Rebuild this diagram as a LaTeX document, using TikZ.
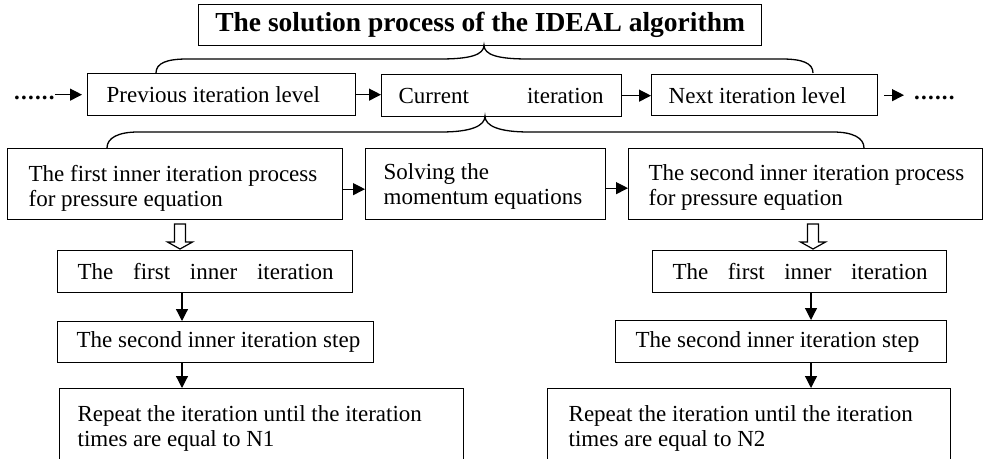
\documentclass[tikz,border=0pt]{standalone}
\usepackage{fontspec}
\setmainfont{Liberation Serif}
\usetikzlibrary{arrows.meta}
\newcommand{\bodyfs}{\fontsize{23pt}{25pt}\selectfont}
\newcommand{\titlefs}{\fontsize{27.5pt}{30pt}\selectfont\bfseries}
% left padding, text width, text
\newcommand{\padtext}[3]{\hspace*{#1}\parbox[c]{#2}{#3}}
% same, moved down by half of the extra height #4
\newcommand{\padlow}[4]{\hspace*{#1}\raisebox{0pt}[\dimexpr\height+#4\relax]{\parbox[c]{#2}{#3}}}
\begin{document}
\begin{tikzpicture}[x=1pt,y=-1pt,
  bx/.style={draw, line width=1.3pt, anchor=north west, inner sep=0pt, font=\bodyfs},
  arr/.style={line width=1.2pt, -{Triangle[length=12pt,width=12pt]}},
  brc/.style={line width=1.3pt},
  hol/.style={line width=1.2pt, fill=white},
  dots/.style={anchor=base west, inner sep=0pt, font=\bodyfs\bfseries}]
\useasboundingbox (0,0) rectangle (984,458);
\clip (0,0) rectangle (984,458);

% title and level boxes
\node[bx, minimum width=563pt, minimum height=41pt, font=\titlefs] (title) at (198,4) {The solution process of the IDEAL algorithm};
\node[bx, minimum width=268pt, minimum height=42pt] (prev) at (87,73) {\padtext{19pt}{249pt}{Previous iteration level}};
\node[bx, minimum width=240pt, minimum height=42pt] (cur) at (381,74) {\padtext{17pt}{205pt}{Current\hfill iteration}\hspace*{18pt}};
\node[bx, minimum width=226pt, minimum height=41pt] (next) at (651,74) {\padtext{17pt}{209pt}{Next iteration level}};

% inner process boxes
\node[bx, minimum width=335pt, minimum height=71pt] (in1) at (7,148) {\padlow{21pt}{314pt}{The first inner iteration process\\for pressure equation}{8pt}};
\node[bx, minimum width=240pt, minimum height=71pt] (solv) at (365,148) {\padlow{18pt}{222pt}{Solving the\\momentum equations}{4pt}};
\node[bx, minimum width=354pt, minimum height=71pt] (in2) at (628,148) {\padlow{20pt}{334pt}{The second inner iteration process\\for pressure equation}{6pt}};

% left column
\node[bx, minimum width=295pt, minimum height=42pt] (fi1) at (57,250) {\padtext{20pt}{256pt}{The\hfill first\hfill inner\hfill iteration}\hspace*{19pt}};
\node[bx, minimum width=316pt, minimum height=41pt] (ss1) at (57,321) {\padtext{19pt}{297pt}{The second inner iteration step}};
\node[bx, minimum width=404pt, minimum height=80pt] (rep1) at (59,388) {\padtext{18pt}{386pt}{Repeat the iteration until the iteration\\times are equal to N1}};

% right column
\node[bx, minimum width=294pt, minimum height=42pt] (fi2) at (652,250) {\padtext{20pt}{255pt}{The\hfill first\hfill inner\hfill iteration}\hspace*{19pt}};
\node[bx, minimum width=331pt, minimum height=42pt] (ss2) at (615,320) {\padtext{20pt}{311pt}{The second inner iteration step}};
\node[bx, minimum width=403pt, minimum height=80pt] (rep2) at (547,388) {\padtext{21pt}{382pt}{Repeat the iteration until the iteration\\times are equal to N2}};

% dots and level arrows
\node[dots] (dotsL) at (14,99) {.\kern1.2pt.\kern1.2pt.\kern1.2pt.\kern1.2pt.\kern1.2pt.};
\node[dots] (dotsR) at (914,99) {.\kern1.2pt.\kern1.2pt.\kern1.2pt.\kern1.2pt.\kern1.2pt.};
\draw[arr, shorten >=5pt] (dotsL.east |- prev.west) -- (prev.west);
\draw[arr] (prev.east) -- (prev.east -| cur.west);
\draw[arr] (cur.east) -- (cur.east -| next.west);
\draw[arr, shorten <=6pt, shorten >=10pt] (next.east) -- (next.east -| dotsR.west);

% row 3 arrows
\draw[arr] ([yshift=-5pt]in1.east) -- ([yshift=-5pt]in1.east -| solv.west);
\draw[arr] ([yshift=-4pt]solv.east) -- ([yshift=-4pt]solv.east -| in2.west);

% braces
\coordinate (t0) at (484,45);
\coordinate (bl1) at (156,73);
\coordinate (br1) at (813,73);
\draw[brc] (bl1) .. controls +(0,-10) and +(-20,0) .. (187,59) -- (440,59)
  .. controls (470,59) and (484,55) .. (t0)
  .. controls (484,55) and (498,59) .. (528,59) -- (782,59)
  .. controls +(20,0) and +(0,-10) .. (br1);
\coordinate (t1) at (485,116);
\coordinate (bl2) at (107,148);
\coordinate (br2) at (864,148);
\draw[brc] (bl2) .. controls +(0,-10) and +(-20,0) .. (138,132) -- (441,132)
  .. controls (471,132) and (485,126) .. (t1)
  .. controls (485,126) and (499,132) .. (529,132) -- (833,132)
  .. controls +(20,0) and +(0,-10) .. (br2);

% hollow arrows
\coordinate (h1) at (180,224);
\coordinate (h2) at (813,224);
\draw[hol] (h1) ++(-5.5,0) -- ++(0,18) -- ++(-7,0) -- ++(12.5,7) -- ++(12.5,-7) -- ++(-7,0) -- ++(0,-18) -- cycle;
\draw[hol] (h2) ++(-5.5,0) -- ++(0,18) -- ++(-7,0) -- ++(12.5,7) -- ++(12.5,-7) -- ++(-7,0) -- ++(0,-18) -- cycle;

% down arrows
\coordinate (a1) at (182,0);
\coordinate (a2) at (811,0);
\draw[arr] (fi1.south -| a1) -- (ss1.north -| a1);
\draw[arr] (ss1.south -| a1) -- (rep1.north -| a1);
\draw[arr] (fi2.south -| a2) -- (ss2.north -| a2);
\draw[arr] (ss2.south -| a2) -- (rep2.north -| a2);
\end{tikzpicture}
\end{document}
